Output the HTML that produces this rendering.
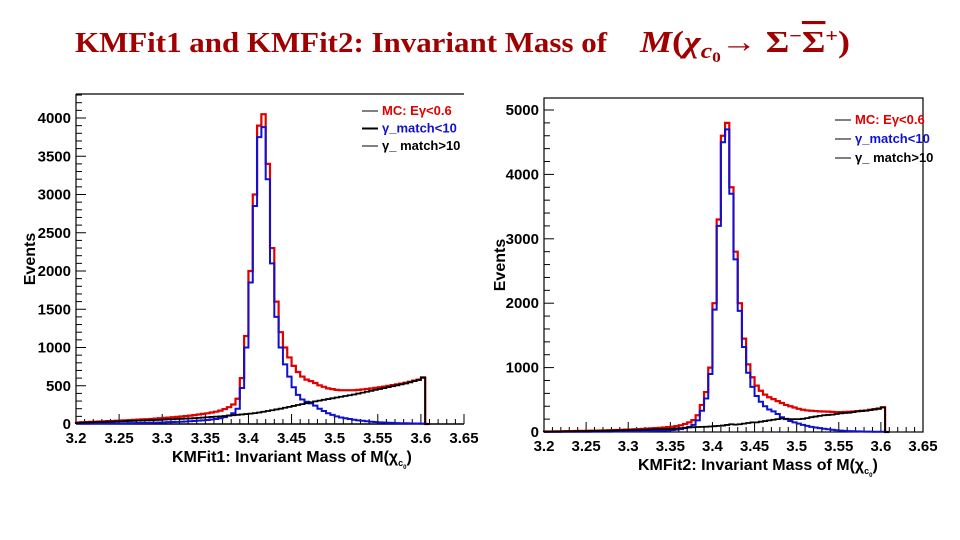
<!DOCTYPE html>
<html><head><meta charset="utf-8"><style>
html,body{margin:0;padding:0;background:#fff;}
svg{display:block;font-family:"Liberation Sans Narrow","Liberation Sans",sans-serif;}
</style></head><body>
<svg id="chart" width="960" height="540" viewBox="0 0 960 540">
<g fill="#a00000">
<text x="75" y="52" font-family="Liberation Serif,serif" font-weight="bold" font-size="29" textLength="532" lengthAdjust="spacingAndGlyphs">KMFit1 and KMFit2: Invariant Mass of</text>
<text x="640" y="52" font-family="Liberation Serif,serif" font-size="31" font-weight="bold" textLength="210" lengthAdjust="spacingAndGlyphs"><tspan font-style="italic">M</tspan>(<tspan font-style="italic">χ</tspan><tspan font-style="italic" font-size="22" dy="6">c</tspan><tspan font-size="15" dy="4">0</tspan><tspan dy="-10">→ Σ</tspan><tspan font-size="19" dy="-10">−</tspan><tspan dy="10" text-decoration="overline">Σ</tspan><tspan font-size="19" dy="-10">+</tspan><tspan dy="10">)</tspan></text>
</g>
<g id="p1"></g>
<g id="p2"></g>
</svg>
<script>
const binStart = 3.2;
const binWidth = 0.005;
const xTicks = [3.2,3.25,3.3,3.35,3.4,3.45,3.5,3.55,3.6,3.65];
const xTickLabels = ["3.2","3.25","3.3","3.35","3.4","3.45","3.5","3.55","3.6","3.65"];
const yTicks1 = [0,500,1000,1500,2000,2500,3000,3500,4000];
const yTicks2 = [0,1000,2000,3000,4000,5000];
const legendLabels = ["MC:  E\u03b3<0.6","\u03b3_match<10","\u03b3_ match>10"];
const red1 = [20,23,25,28,30,33,35,38,40,43,46,48,51,54,57,60,63,66,70,75,
80,84,88,93,98,103,109,116,124,132,140,150,161,175,195,220,255,330,600,1150,
2000,3000,3900,4050,3400,2300,1600,1200,1000,870,760,680,620,580,560,536,506,486,466,456,
446,441,441,441,441,446,452,458,464,472,480,489,498,508,518,528,539,553,567,581,605,0];
const blue1 = [5,5,5,6,6,7,7,8,8,9,10,10,11,12,13,14,15,16,18,20,
22,24,26,28,30,33,36,40,44,48,52,58,65,75,90,110,140,200,470,1000,
1850,2850,3750,3880,3200,2100,1400,1000,780,620,480,380,320,290,270,240,200,170,140,120,
100,85,75,65,55,48,42,36,30,26,22,19,16,14,12,10,9,8,7,6,5,0];
const black1 = [15,18,20,22,24,26,28,30,32,34,36,38,40,42,44,46,48,50,52,55,
58,60,62,65,68,70,73,76,80,84,88,92,96,100,105,110,115,120,125,130,
136,142,150,160,170,180,190,200,212,224,236,248,260,272,284,296,306,316,326,336,
346,356,366,376,386,398,410,422,434,446,458,470,482,494,506,518,530,545,560,575,610,0];
const red2 = [8,9,10,11,12,13,14,15,17,18,20,21,22,24,26,28,30,32,34,37,
40,43,46,49,52,56,60,65,70,76,82,92,105,125,150,185,260,420,620,1000,
2000,3300,4600,4800,3800,2800,2000,1450,1050,850,720,640,580,540,510,480,450,420,400,380,
360,345,335,330,325,320,318,316,312,310,310,312,315,318,325,330,335,345,355,365,385,0];
const blue2 = [2,2,2,2,3,3,3,3,4,4,4,5,5,5,6,6,7,7,8,8,
9,10,11,12,13,15,17,19,22,25,30,36,45,60,80,110,180,330,520,900,
1900,3200,4500,4700,3700,2680,1880,1320,920,700,560,470,400,350,320,280,230,200,170,150,
130,110,95,80,70,60,50,42,35,28,22,18,14,11,9,7,6,5,4,3,3,0];
const black2 = [5,6,7,8,9,10,11,12,13,14,15,16,17,18,19,20,22,24,26,28,
30,32,34,36,38,40,42,44,46,48,50,55,60,65,70,75,78,80,82,85,
90,95,100,110,120,115,120,130,140,150,150,160,170,180,190,200,210,205,200,200,
200,205,215,230,240,250,260,265,270,280,290,295,300,310,320,325,330,340,350,360,380,0];

const NS="http://www.w3.org/2000/svg";
function mk(parent,tag,attrs){const e=document.createElementNS(NS,tag);for(const k in attrs)e.setAttribute(k,attrs[k]);parent.appendChild(e);return e;}

function drawPlot(g,cfg,yTicks,series,names){
  const X=v=>cfg.x0+(v-3.2)/(3.65-3.2)*(cfg.x1-cfg.x0);
  const Y=v=>cfg.y0-v/cfg.ymax*(cfg.y0-cfg.ytop);
  if(cfg.box){
    const r=mk(g,'rect',{x:cfg.x0,y:cfg.fy,width:cfg.x1-cfg.x0,height:cfg.y0-cfg.fy,fill:'none',stroke:'#000','stroke-width':1.2});
    
    
  } else {
    const t=mk(g,'line',{x1:cfg.x0,y1:cfg.fy,x2:cfg.x1,y2:cfg.fy,stroke:'#000','stroke-width':1.2});
    
    
    const l=mk(g,'line',{x1:cfg.x0,y1:cfg.fy,x2:cfg.x0,y2:cfg.y0,stroke:'#000','stroke-width':1.2});
    
    
    const b=mk(g,'line',{x1:cfg.x0,y1:cfg.y0,x2:cfg.x1,y2:cfg.y0,stroke:'#000','stroke-width':1.5});
    
    
  }
  const step=yTicks[1]-yTicks[0];
  for(let v=0;v<=cfg.ymax*1.1;v+=step/5){
    const y=Y(v);if(y<cfg.fy)break;
    const major=Math.abs(v/step-Math.round(v/step))<1e-6;
    mk(g,'line',{x1:cfg.x0,y1:y,x2:cfg.x0+(major?10:6),y2:y,stroke:'#000','stroke-width':1});
  }
  yTicks.forEach(v=>{
    const t=mk(g,'text',{x:cfg.x0-5,y:Y(v)+5,'text-anchor':'end','font-size':15,'font-weight':'bold'});
    t.textContent=v;
    
    
  });
  for(let i=0;i<=45;i++){
    const v=3.2+i*0.01;const x=X(v);const major=i%5===0;
    mk(g,'line',{x1:x,y1:cfg.y0,x2:x,y2:cfg.y0-(major?10:5),stroke:'#000','stroke-width':1});
  }
  xTicks.forEach((v,i)=>{
    const t=mk(g,'text',{x:X(v),y:cfg.y0+19,'text-anchor':'middle','font-size':15,'font-weight':'bold'});
    t.textContent=xTickLabels[i];
    
    
  });
  series.forEach((s,si)=>{
    let d='M'+X(binStart)+','+Y(0);
    s.vals.forEach((v,i)=>{const xa=X(binStart+i*binWidth),xb=X(binStart+(i+1)*binWidth);d+=' L'+xa.toFixed(2)+','+Y(v).toFixed(2)+' L'+xb.toFixed(2)+','+Y(v).toFixed(2);});
    const p=mk(g,'path',{d:d,fill:'none',stroke:s.color,'stroke-width':s.w});
    
    
  });
  const yt=mk(g,'text',{transform:`translate(${cfg.ytx},${(cfg.fy+cfg.y0)/2}) rotate(-90)`,'text-anchor':'middle','font-size':16,'font-weight':'bold'});
  yt.textContent='Events';
  
  
  const xt=mk(g,'text',{x:cfg.xtx,y:cfg.y0+38,'font-size':16,'font-weight':'bold'});
  xt.innerHTML=cfg.xtitle+': Invariant Mass of M(χ<tspan font-size="9" dy="4">c</tspan><tspan font-size="6" dy="3">0</tspan><tspan dy="-7">)</tspan>';
  
  
  const cols=['#e00000','#1010d0','#000'];
  legendLabels.forEach((lab,i)=>{
    const y=cfg.ly+i*cfg.ld;
    mk(g,'line',{x1:cfg.lx,y1:y-4,x2:cfg.lx+16,y2:y-4,stroke:'#000','stroke-width':i===1&&!cfg.box?2:1});
    const t=mk(g,'text',{x:cfg.lx+20,y:y,'font-size':13,'font-weight':'bold',fill:cols[i]});
    t.textContent=lab;
    
    
  });
}
drawPlot(document.getElementById('p1'),
  {x0:76,x1:464,y0:424,ytop:118,ymax:4000,fy:94,box:false,ytx:35,xtx:172,xtitle:'KMFit1',lx:362,ly:115,ld:17.5},
  yTicks1,
  [{vals:red1,color:'#e00000',w:2.2},{vals:blue1,color:'#1010d0',w:2},{vals:black1,color:'#000',w:1.8}],
  ['red-mc-total','blue-match-lt10','black-match-gt10']);
drawPlot(document.getElementById('p2'),
  {x0:544,x1:923,y0:432,ytop:110,ymax:5000,fy:98,box:true,ytx:505,xtx:638,xtitle:'KMFit2',lx:835,ly:124,ld:19},
  yTicks2,
  [{vals:red2,color:'#e00000',w:2.2},{vals:blue2,color:'#1010d0',w:2},{vals:black2,color:'#000',w:1.8}],
  ['red-mc-total','blue-match-lt10','black-match-gt10']);
</script>
</body></html>
